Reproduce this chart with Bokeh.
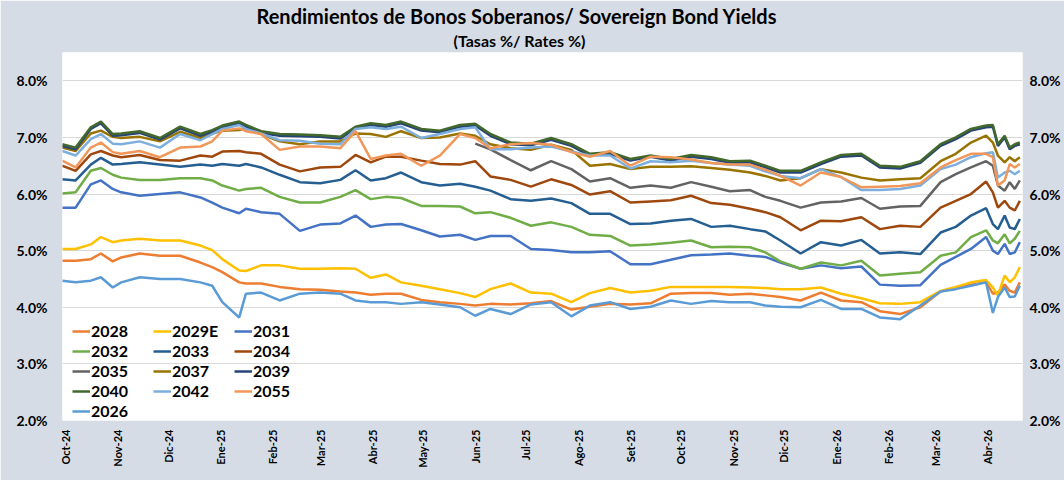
from datetime import datetime
import numpy as np
from bokeh.plotting import figure
from bokeh.models import (Range1d, LinearAxis, FixedTicker, PrintfTickFormatter, Legend,
                          LegendItem, Title, CustomJSTickFormatter)
from bokeh.embed import file_html
from bokeh.resources import INLINE

nan = float("nan")

dates = ["2024-09-29", "2024-10-07", "2024-10-16", "2024-10-22", "2024-10-29", "2024-11-03", "2024-11-14",
         "2024-11-26", "2024-12-08", "2024-12-20", "2024-12-27", "2025-01-02", "2025-01-12", "2025-01-16",
         "2025-01-25", "2025-02-05", "2025-02-17", "2025-03-01", "2025-03-13", "2025-03-22", "2025-03-31",
         "2025-04-09", "2025-04-18", "2025-04-30", "2025-05-11", "2025-05-23", "2025-06-01", "2025-06-10",
         "2025-06-22", "2025-07-04", "2025-07-16", "2025-07-28", "2025-08-08", "2025-08-20", "2025-09-01",
         "2025-09-13", "2025-09-25", "2025-10-07", "2025-10-19", "2025-10-30", "2025-11-11", "2025-11-20",
         "2025-11-29", "2025-12-11", "2025-12-23", "2026-01-04", "2026-01-16", "2026-01-27", "2026-02-08",
         "2026-02-20", "2026-03-04", "2026-03-13", "2026-03-22", "2026-03-31", "2026-04-04", "2026-04-07",
         "2026-04-11", "2026-04-14", "2026-04-17", "2026-04-20"]

y2028 = [4.82, 4.82, 4.85, 4.95, 4.81, 4.88, 4.95, 4.91, 4.91, 4.79,
         4.71, 4.62, 4.44, 4.42, 4.42, 4.36, 4.32, 4.31, 4.28, 4.26,
         4.22, 4.24, 4.24, 4.13, 4.09, 4.06, 4.03, 4.06, 4.05, 4.07,
         4.11, 3.96, 4.01, 4.06, 4.05, 4.07, 4.24, 4.25, 4.25, 4.22,
         4.24, 4.21, 4.18, 4.12, 4.26, 4.12, 4.09, 3.93, 3.88, 4.00,
         4.28, 4.34, 4.40, 4.44, 4.24, 4.26, 4.40, 4.29, 4.26, 4.44]

y2029e = [5.03, 5.03, 5.11, 5.24, 5.15, 5.18, 5.21, 5.18, 5.18, 5.09,
          5.01, 4.85, 4.65, 4.64, 4.74, 4.74, 4.68, 4.68, 4.69, 4.68,
          4.52, 4.58, 4.44, 4.38, 4.32, 4.25, 4.18, 4.32, 4.42, 4.26,
          4.24, 4.09, 4.25, 4.34, 4.26, 4.29, 4.36, 4.36, 4.36, 4.36,
          4.35, 4.34, 4.32, 4.32, 4.35, 4.24, 4.16, 4.07, 4.06, 4.09,
          4.29, 4.36, 4.44, 4.48, 4.35, 4.21, 4.56, 4.44, 4.53, 4.71]

y2031 = [5.76, 5.76, 6.17, 6.24, 6.09, 6.03, 5.97, 6.00, 6.03, 5.94,
         5.85, 5.76, 5.66, 5.74, 5.68, 5.65, 5.35, 5.46, 5.48, 5.62,
         5.42, 5.46, 5.47, 5.36, 5.25, 5.28, 5.19, 5.26, 5.26, 5.03,
         5.01, 4.97, 4.97, 4.99, 4.76, 4.76, 4.84, 4.92, 4.93, 4.95,
         4.91, 4.89, 4.79, 4.68, 4.74, 4.69, 4.72, 4.40, 4.38, 4.39,
         4.75, 4.89, 5.03, 5.24, 5.00, 4.94, 5.12, 4.94, 4.97, 5.15]

y2032 = [6.01, 6.03, 6.41, 6.46, 6.34, 6.29, 6.25, 6.25, 6.28, 6.28,
         6.24, 6.15, 6.06, 6.09, 6.11, 5.95, 5.85, 5.85, 5.95, 6.07,
         5.91, 5.95, 5.93, 5.79, 5.79, 5.78, 5.66, 5.68, 5.58, 5.44,
         5.50, 5.42, 5.28, 5.26, 5.09, 5.11, 5.14, 5.18, 5.06, 5.07,
         5.06, 4.97, 4.81, 4.68, 4.79, 4.74, 4.82, 4.56, 4.59, 4.62,
         4.91, 4.97, 5.24, 5.36, 5.18, 5.13, 5.29, 5.13, 5.21, 5.35]

y2033 = [6.26, 6.24, 6.52, 6.64, 6.52, 6.53, 6.56, 6.52, 6.48, 6.52,
         6.50, 6.53, 6.50, 6.53, 6.47, 6.34, 6.21, 6.19, 6.25, 6.42,
         6.24, 6.28, 6.38, 6.21, 6.15, 6.18, 6.13, 6.06, 5.91, 5.88,
         5.92, 5.84, 5.65, 5.65, 5.47, 5.48, 5.53, 5.56, 5.42, 5.44,
         5.38, 5.34, 5.18, 4.95, 5.15, 5.09, 5.19, 4.95, 4.97, 4.94,
         5.32, 5.42, 5.62, 5.75, 5.47, 5.38, 5.62, 5.41, 5.38, 5.56]

y2034 = [6.50, 6.41, 6.70, 6.76, 6.68, 6.65, 6.69, 6.60, 6.59, 6.68,
         6.66, 6.75, 6.76, 6.74, 6.71, 6.52, 6.40, 6.47, 6.48, 6.69,
         6.56, 6.66, 6.66, 6.59, 6.53, 6.52, 6.58, 6.31, 6.25, 6.13,
         6.26, 6.16, 5.99, 6.05, 5.85, 5.87, 5.89, 5.97, 5.84, 5.81,
         5.74, 5.68, 5.59, 5.36, 5.53, 5.52, 5.59, 5.38, 5.44, 5.42,
         5.76, 5.88, 6.00, 6.22, 6.03, 5.76, 5.88, 5.76, 5.71, 5.88]

y2035 = [nan, nan, nan, nan, nan, nan, nan, nan, nan, nan,
         nan, nan, nan, nan, nan, nan, nan, nan, nan, nan,
         nan, nan, nan, nan, nan, nan, 6.89, 6.79, 6.60, 6.42,
         6.58, 6.44, 6.22, 6.28, 6.11, 6.15, 6.11, 6.21, 6.13, 6.05,
         6.07, 5.95, 5.88, 5.76, 5.85, 5.87, 5.93, 5.74, 5.78, 5.79,
         6.21, 6.35, 6.47, 6.58, 6.50, 6.15, 6.06, 6.21, 6.09, 6.24]

y2037 = [6.82, 6.76, 7.07, 7.12, 7.01, 6.99, 7.01, 6.93, 7.10, 6.99,
         7.07, 7.12, 7.13, 7.15, 7.06, 6.93, 6.88, 6.93, 6.93, 7.07,
         7.06, 7.01, 7.11, 6.99, 7.00, 7.07, 7.03, 6.88, 6.81, 6.78,
         6.87, 6.78, 6.50, 6.53, 6.44, 6.48, 6.48, 6.49, 6.46, 6.43,
         6.38, 6.32, 6.24, 6.28, 6.44, 6.38, 6.29, 6.24, 6.26, 6.28,
         6.58, 6.71, 6.91, 7.03, 6.91, 6.68, 6.56, 6.65, 6.58, 6.65]

y2039 = [6.85, 6.79, 7.15, 7.25, 7.03, 7.04, 7.08, 6.96, 7.16, 7.03,
         7.10, 7.18, 7.25, 7.19, 7.08, 7.03, 7.02, 7.01, 6.98, 7.16,
         7.22, 7.19, 7.25, 7.12, 7.09, 7.19, 7.21, 7.03, 6.88, 6.86,
         6.96, 6.85, 6.68, 6.71, 6.59, 6.66, 6.59, 6.66, 6.62, 6.55,
         6.56, 6.47, 6.38, 6.38, 6.53, 6.66, 6.68, 6.47, 6.45, 6.55,
         6.85, 6.97, 7.12, 7.18, 7.19, 6.85, 7.00, 6.79, 6.85, 6.88]

y2040 = [6.88, 6.82, 7.18, 7.28, 7.06, 7.07, 7.11, 6.99, 7.19, 7.06,
         7.13, 7.21, 7.28, 7.22, 7.11, 7.06, 7.05, 7.04, 7.01, 7.19,
         7.25, 7.22, 7.28, 7.15, 7.12, 7.22, 7.24, 7.06, 6.91, 6.89,
         6.99, 6.88, 6.71, 6.74, 6.62, 6.68, 6.62, 6.69, 6.65, 6.58,
         6.59, 6.50, 6.41, 6.41, 6.56, 6.69, 6.71, 6.50, 6.48, 6.58,
         6.88, 7.00, 7.15, 7.21, 7.22, 6.88, 7.03, 6.82, 6.88, 6.91]

y2042 = [6.76, 6.68, 6.97, 7.06, 6.89, 6.88, 6.93, 6.82, 7.06, 6.95,
         7.06, 7.15, 7.22, 7.15, 7.07, 6.95, 6.94, 6.89, 6.88, 7.15,
         7.18, 7.15, 7.19, 6.99, 7.06, 7.15, 7.18, 6.79, 6.79, 6.82,
         6.84, 6.75, 6.68, 6.68, 6.45, 6.58, 6.56, 6.59, 6.55, 6.52,
         6.50, 6.40, 6.32, 6.28, 6.44, 6.30, 6.07, 6.07, 6.09, 6.15,
         6.44, 6.52, 6.65, 6.72, 6.74, 6.29, 6.38, 6.41, 6.35, 6.41]

y2055 = [6.59, 6.47, 6.82, 6.91, 6.74, 6.71, 6.76, 6.65, 6.82, 6.84,
         6.93, 7.12, 7.16, 7.11, 7.06, 6.78, 6.84, 6.84, 6.81, 7.11,
         6.62, 6.68, 6.71, 6.50, 6.68, 7.06, 6.99, 6.81, 6.88, 6.90,
         6.87, 6.74, 6.66, 6.76, 6.50, 6.66, 6.65, 6.61, 6.55, 6.52,
         6.52, 6.43, 6.32, 6.15, 6.38, 6.30, 6.12, 6.13, 6.14, 6.19,
         6.47, 6.60, 6.71, 6.71, 6.65, 6.15, 6.24, 6.53, 6.47, 6.53]

y2026 = [4.47, 4.44, 4.47, 4.53, 4.35, 4.44, 4.53, 4.50, 4.50, 4.44,
         4.38, 4.09, 3.82, 4.24, 4.26, 4.12, 4.24, 4.26, 4.24, 4.12,
         4.09, 4.09, 4.06, 4.09, 4.05, 4.00, 3.85, 3.97, 3.88, 4.05,
         4.09, 3.84, 4.03, 4.09, 3.97, 4.01, 4.12, 4.06, 4.11, 4.09,
         4.09, 4.03, 4.01, 4.00, 4.13, 3.97, 3.97, 3.82, 3.79, 4.03,
         4.28, 4.32, 4.38, 4.44, 3.90, 4.18, 4.35, 4.18, 4.19, 4.38]

series_names = ["2028", "2029E", "2031", "2032", "2033", "2034", "2035",
                "2037", "2039", "2040", "2042", "2055", "2026"]
series_values = [y2028, y2029e, y2031, y2032, y2033, y2034, y2035,
                 y2037, y2039, y2040, y2042, y2055, y2026]
series_colors = ["#ED7D31", "#FFC000", "#4472C4", "#70AD47", "#255E91", "#9E480E", "#636363",
                 "#997300", "#264478", "#43682B", "#7CAFDD", "#F1975A", "#5B9BD5"]

month_starts = ["2024-10-01", "2024-11-01", "2024-12-01", "2025-01-01", "2025-02-01", "2025-03-01",
                "2025-04-01", "2025-05-01", "2025-06-01", "2025-07-01", "2025-08-01", "2025-09-01",
                "2025-10-01", "2025-11-01", "2025-12-01", "2026-01-01", "2026-02-01", "2026-03-01",
                "2026-04-01"]
month_labels = ["Oct-24", "Nov-24", "Dic-24", "Ene-25", "Feb-25", "Mar-25", "Abr-25", "May-25",
                "Jun-25", "Jul-25", "Ago-25", "Set-25", "Oct-25", "Nov-25", "Dic-25", "Ene-26",
                "Feb-26", "Mar-26", "Abr-26"]
y_ticks = [2, 3, 4, 5, 6, 7, 8]

TITLE = "Rendimientos de Bonos Soberanos/ Sovereign Bond Yields"
SUBTITLE = "(Tasas %/ Rates %)"

FONT = "Lato"
BG = "#D6DCE5"
EPOCH = datetime(1970, 1, 1)


def to_dt(s):
    return datetime.strptime(s, "%Y-%m-%d")


def to_ms(d):
    return (d - EPOCH).total_seconds() * 1000.0


xs = [to_dt(d) for d in dates]
tick_ms = [to_ms(to_dt(d)) for d in month_starts]

p = figure(width=1064, height=480, x_axis_type="datetime", output_backend="svg",
           toolbar_location=None,
           x_range=Range1d(datetime(2024, 9, 29, 5), datetime(2026, 4, 21, 14)),
           y_range=Range1d(2, 8.5),
           min_border_left=62, min_border_right=42, min_border_top=52, min_border_bottom=60)
p.background_fill_color = "white"
p.border_fill_color = BG
p.outline_line_color = None

# titles (first added sits nearest the plot)
p.add_layout(Title(text=SUBTITLE, align="left", offset=391, text_font=FONT, text_font_style="bold",
                   text_font_size="16px", text_color="black", standoff=6), "above")
p.add_layout(Title(text=TITLE, align="left", offset=194, text_font=FONT, text_font_style="bold",
                   text_font_size="20px", text_color="black", standoff=-4), "above")

# x axis
xa = p.xaxis[0]
xa.ticker = FixedTicker(ticks=tick_ms)
xa.formatter = CustomJSTickFormatter(args=dict(tvals=tick_ms, tlabels=month_labels), code="""
const i = tvals.indexOf(tick);
return i >= 0 ? tlabels[i] : "";
""")
xa.major_label_orientation = np.pi / 2
xa.major_label_text_font = FONT
xa.major_label_text_font_style = "bold"
xa.major_label_text_font_size = "11px"
xa.major_label_text_color = "black"
xa.major_label_standoff = 9
xa.axis_line_color = None
xa.major_tick_line_color = None
xa.minor_tick_line_color = None
xa.major_tick_out = 0
xa.major_tick_in = 0
xa.minor_tick_out = 0
xa.minor_tick_in = 0


def style_y(ax, standoff):
    ax.ticker = FixedTicker(ticks=y_ticks)
    ax.formatter = PrintfTickFormatter(format="%.1f%%")
    ax.major_label_text_font = FONT
    ax.major_label_text_font_style = "bold"
    ax.major_label_text_font_size = "14px"
    ax.major_label_text_color = "black"
    ax.major_label_standoff = standoff
    ax.axis_line_color = None
    ax.major_tick_line_color = None
    ax.minor_tick_line_color = None
    ax.major_tick_out = 0
    ax.major_tick_in = 0
    ax.minor_tick_out = 0
    ax.minor_tick_in = 0


style_y(p.yaxis[0], 15)
ra = LinearAxis()
style_y(ra, 7)
p.add_layout(ra, "right")

p.xgrid.visible = False
p.ygrid.ticker = FixedTicker(ticks=y_ticks)
p.ygrid.grid_line_color = "#D9D9D9"
p.ygrid.grid_line_width = 1

items = []
for name, ys, color in zip(series_names, series_values, series_colors):
    r = p.line(xs, ys, line_color=color, line_width=2.5)
    items.append(LegendItem(label=name, renderers=[r]))

legend = Legend(items=items, location=(10, 0), orientation="horizontal", ncols=3,
                label_text_font=FONT, label_text_font_style="bold", label_text_font_size="16px",
                label_text_color="black", glyph_width=18, glyph_height=18, label_standoff=1,
                label_width=61, label_height=19, spacing=1, padding=0, margin=0,
                border_line_color=None, background_fill_alpha=0)
p.add_layout(legend)

open("out.html", "w").write(file_html(p, INLINE))
